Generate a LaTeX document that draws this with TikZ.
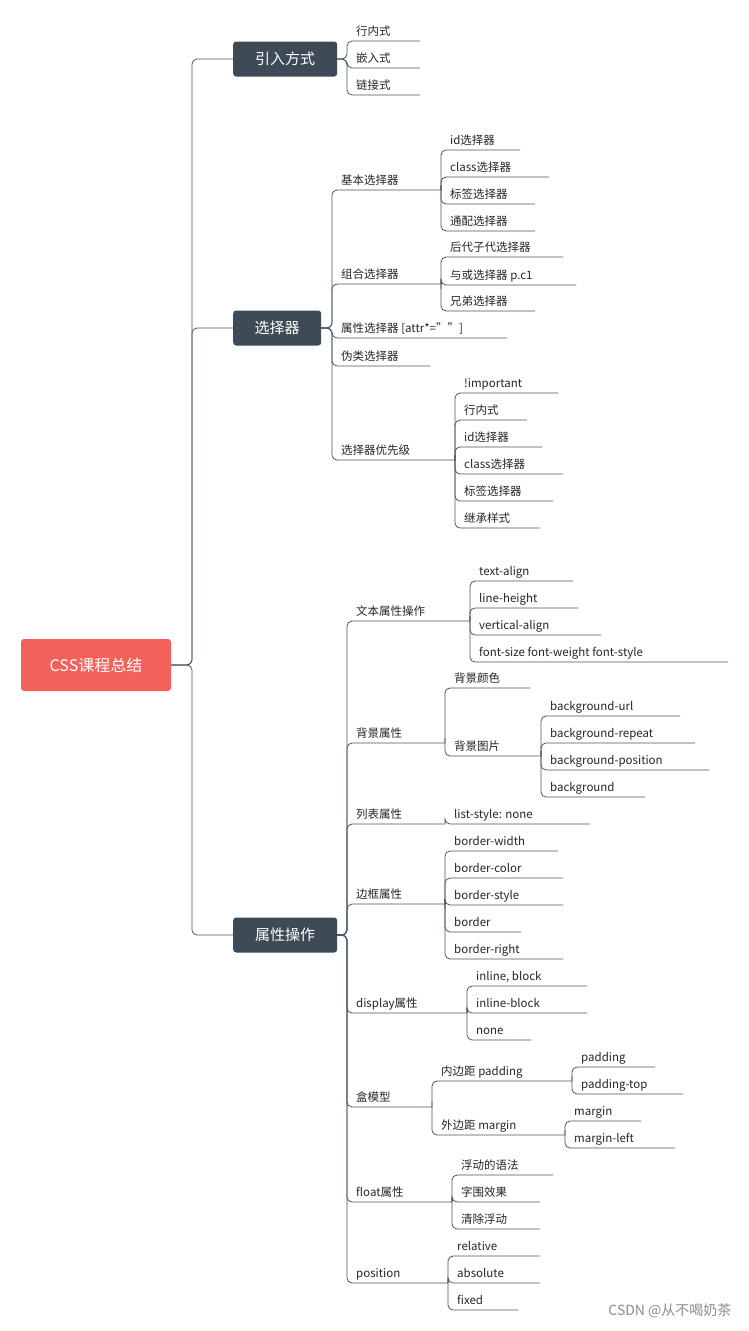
\documentclass[tikz,border=0pt]{standalone}
\usepackage{fontspec}
\setmainfont{Noto Sans CJK SC}
\definecolor{boxc}{HTML}{3E4A56}
\definecolor{rootc}{HTML}{F2625A}
\definecolor{linec}{HTML}{4A5662}
\tikzset{ln/.style={draw=linec,line width=0.8pt,rounded corners=5pt},
 lbl/.style={anchor=base west,inner sep=0pt,font=\fontsize{11.5}{13}\selectfont,text=black!85},
 l1/.style={fill=boxc,text=white,rounded corners=3pt,font=\fontsize{15}{17}\selectfont,inner sep=0pt,anchor=west}}
\newcommand\br[6]{\draw[ln] (#1,#2) -| (#3,#4) -- (#5,#4);
 \node[lbl] at ({#3+9},{#4-6}) {#6};}
\begin{document}
\begin{tikzpicture}[x=1pt,y=-1pt]
\useasboundingbox (0,0) rectangle (749,1331);
\fill[white] (0,0) rectangle (749,1331);
% root
\node[fill=rootc,text=white,rounded corners=3pt,minimum width=150pt,minimum height=52pt,font=\fontsize{16}{18}\selectfont] (root) at (96,665) {CSS课程总结};
\draw[ln] (root.east) -| (192,59) -- (233,59);
\draw[ln] (root.east) -| (192,328) -- (233,328);
\draw[ln] (root.east) -| (192,935) -- (233,935);
\node[l1,minimum width=104pt,minimum height=35pt] (a) at (233,59) {引入方式};
\node[l1,minimum width=88pt,minimum height=35pt] (b) at (233,328) {选择器};
\node[l1,minimum width=104pt,minimum height=35pt] (c) at (233,935) {属性操作};
% 引入方式
\br{337}{59}{347}{41}{420}{行内式}
\br{337}{59}{347}{68}{420}{嵌入式}
\br{337}{59}{347}{95}{420}{链接式}
% 选择器
\br{321}{328}{332}{190}{441}{基本选择器}
\br{441}{190}{441}{150}{520}{id选择器}
\br{441}{190}{441}{177}{549}{class选择器}
\br{441}{190}{441}{204}{535}{标签选择器}
\br{441}{190}{441}{231}{535}{通配选择器}
\br{321}{328}{332}{284}{441}{组合选择器}
\br{441}{284}{441}{257}{563}{后代子代选择器}
\br{441}{284}{441}{285}{576}{与或选择器 p.c1}
\br{441}{284}{441}{311}{535}{兄弟选择器}
\br{321}{328}{332}{338}{507}{属性选择器 [attr*=""]}
\br{321}{328}{332}{366}{430}{伪类选择器}
\br{321}{328}{332}{460}{455}{选择器优先级}
\br{455}{460}{455}{393}{558}{!important}
\br{455}{460}{455}{420}{527}{行内式}
\br{455}{460}{455}{447}{542}{id选择器}
\br{455}{460}{455}{474}{563}{class选择器}
\br{455}{460}{455}{501}{553}{标签选择器}
\br{455}{460}{455}{528}{540}{继承样式}
% 属性操作
\br{337}{935}{347}{621}{470}{文本属性操作}
\br{470}{621}{470}{581}{573}{text-align}
\br{470}{621}{470}{608}{578}{line-height}
\br{470}{621}{470}{635}{601}{vertical-align}
\br{470}{621}{470}{662}{728}{font-size font-weight font-style}
\br{337}{935}{347}{743}{445}{背景属性}
\br{445}{743}{445}{688}{530}{背景颜色}
\br{445}{743}{445}{756}{541}{背景图片}
\br{541}{756}{541}{716}{680}{background-url}
\br{541}{756}{541}{743}{695}{background-repeat}
\br{541}{756}{541}{770}{709}{background-position}
\br{541}{756}{541}{797}{645}{background}
\br{337}{935}{347}{824}{445}{列表属性}
\br{445}{824}{445}{824}{590}{list-style: none}
\br{337}{935}{347}{904}{445}{边框属性}
\br{445}{904}{445}{851}{558}{border-width}
\br{445}{904}{445}{878}{563}{border-color}
\br{445}{904}{445}{905}{563}{border-style}
\br{445}{904}{445}{932}{521}{border}
\br{445}{904}{445}{959}{563}{border-right}
\br{337}{935}{347}{1013}{467}{display属性}
\br{467}{1013}{467}{986}{587}{inline, block}
\br{467}{1013}{467}{1013}{587}{inline-block}
\br{467}{1013}{467}{1040}{531}{none}
\br{337}{935}{347}{1107}{432}{盒模型}
\br{432}{1107}{432}{1081}{572}{内边距 padding}
\br{572}{1081}{572}{1067}{655}{padding}
\br{572}{1081}{572}{1094}{683}{padding-top}
\br{432}{1107}{432}{1135}{565}{外边距 margin}
\br{565}{1135}{565}{1121}{641}{margin}
\br{565}{1135}{565}{1148}{675}{margin-left}
\br{337}{935}{347}{1202}{452}{float属性}
\br{452}{1202}{452}{1175}{553}{浮动的语法}
\br{452}{1202}{452}{1202}{540}{字围效果}
\br{452}{1202}{452}{1229}{540}{清除浮动}
\br{337}{935}{347}{1283}{448}{position}
\br{448}{1283}{448}{1256}{540}{relative}
\br{448}{1283}{448}{1283}{540}{absolute}
\br{448}{1283}{448}{1310}{518}{fixed}
\node[anchor=east,text=black!45,font=\fontsize{14}{16}\selectfont] (wm) at (735,1311) {CSDN @从不喝奶茶};
\end{tikzpicture}
\end{document}
